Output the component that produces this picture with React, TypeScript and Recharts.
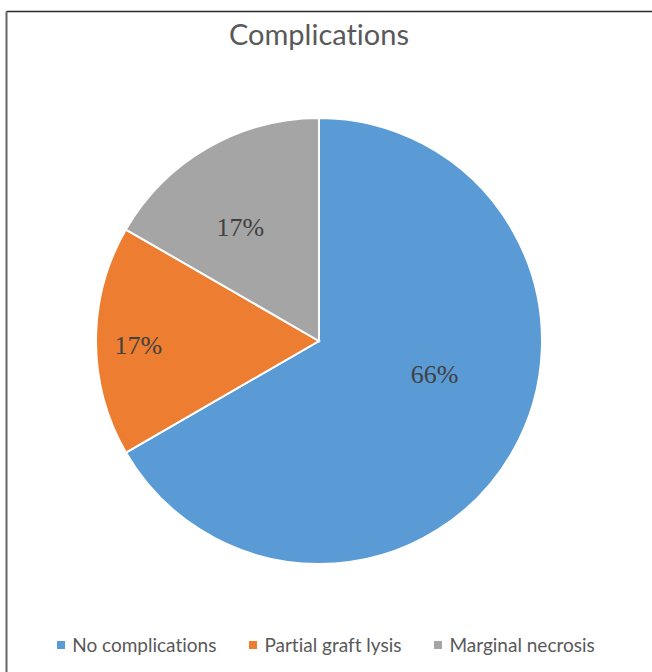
import { PieChart, Pie, Cell, Legend } from 'recharts';

const categories = ['No complications', 'Partial graft lysis', 'Marginal necrosis'];
const shares = [66.67, 16.67, 16.67];
const shareLabels = ['66%', '17%', '17%'];
const colors = ['#5b9bd5', '#ed7d31', '#a5a5a5'];

// label placement per slice: fraction of radius, angle nudge from the mid angle
const labelSpots = [
  { rf: 0.54, da: 13.7 },
  { rf: 0.81, da: 1.3 },
  { rf: 0.62, da: 4.7 },
];

const data = categories.map((name, i) => ({ name, value: shares[i], label: shareLabels[i] }));

const RADIAN = Math.PI / 180;

function renderLabel(props: any) {
  const { cx, cy, midAngle, outerRadius, index } = props;
  const spot = labelSpots[index];
  const a = (midAngle + spot.da) * RADIAN;
  const r = outerRadius * spot.rf;
  const x = cx + r * Math.cos(-a);
  const y = cy + r * Math.sin(-a);
  return (
    <text
      x={x}
      y={y}
      textAnchor="middle"
      dominantBaseline="central"
      fill="#404040"
      style={{ fontFamily: '"Liberation Serif", "DejaVu Serif", serif', fontSize: 26 }}
    >
      {data[index].label}
    </text>
  );
}

function renderLegend() {
  return (
    <div
      style={{
        display: 'flex',
        justifyContent: 'center',
        gap: 33,
        fontFamily: 'Lato, "Open Sans", sans-serif',
        fontSize: 19,
        lineHeight: '19px',
        color: '#595959',
        fontVariantLigatures: 'none',
      }}
    >
      {data.map((d, i) => (
        <div key={d.name} style={{ display: 'flex', alignItems: 'center' }}>
          <span style={{ width: 8, height: 8, background: colors[i], marginRight: 7, display: 'inline-block' }} />
          <span>{d.name}</span>
        </div>
      ))}
    </div>
  );
}

export default function App() {
  return (
    <div style={{ position: 'absolute', top: 0, left: 0, width: 652, height: 672, background: 'white', overflow: 'hidden' }}>
      <svg width={652} height={672} style={{ position: 'absolute', top: 0, left: 0 }}>
        <line x1={6.5} y1={11.5} x2={652} y2={11.5} stroke="#2b2b2b" strokeWidth={1.5} />
        <line x1={6.5} y1={11.5} x2={6.5} y2={672} stroke="#666666" strokeWidth={2} />
        <text
          x={319}
          y={45}
          textAnchor="middle"
          fill="#595959"
          style={{ fontFamily: 'Lato, "Open Sans", sans-serif', fontSize: 29, fontVariantLigatures: 'none' }}
        >
          Complications
        </text>
      </svg>
      <div style={{ position: 'absolute', top: 0, left: 0 }}>
        <PieChart width={652} height={672} margin={{ top: 0, right: 0, bottom: 0, left: 0 }}>
          <Pie
            data={data}
            dataKey="value"
            nameKey="name"
            cx={319}
            cy={341}
            outerRadius={223}
            startAngle={90}
            endAngle={-270}
            stroke="#ffffff"
            strokeWidth={2}
            label={renderLabel}
            labelLine={false}
            isAnimationActive={false}
          >
            {data.map((d, i) => (
              <Cell key={d.name} fill={colors[i]} />
            ))}
          </Pie>
          <Legend content={renderLegend} wrapperStyle={{ position: 'absolute', top: 635, left: 0, width: 652, height: 20 }} />
        </PieChart>
      </div>
    </div>
  );
}
